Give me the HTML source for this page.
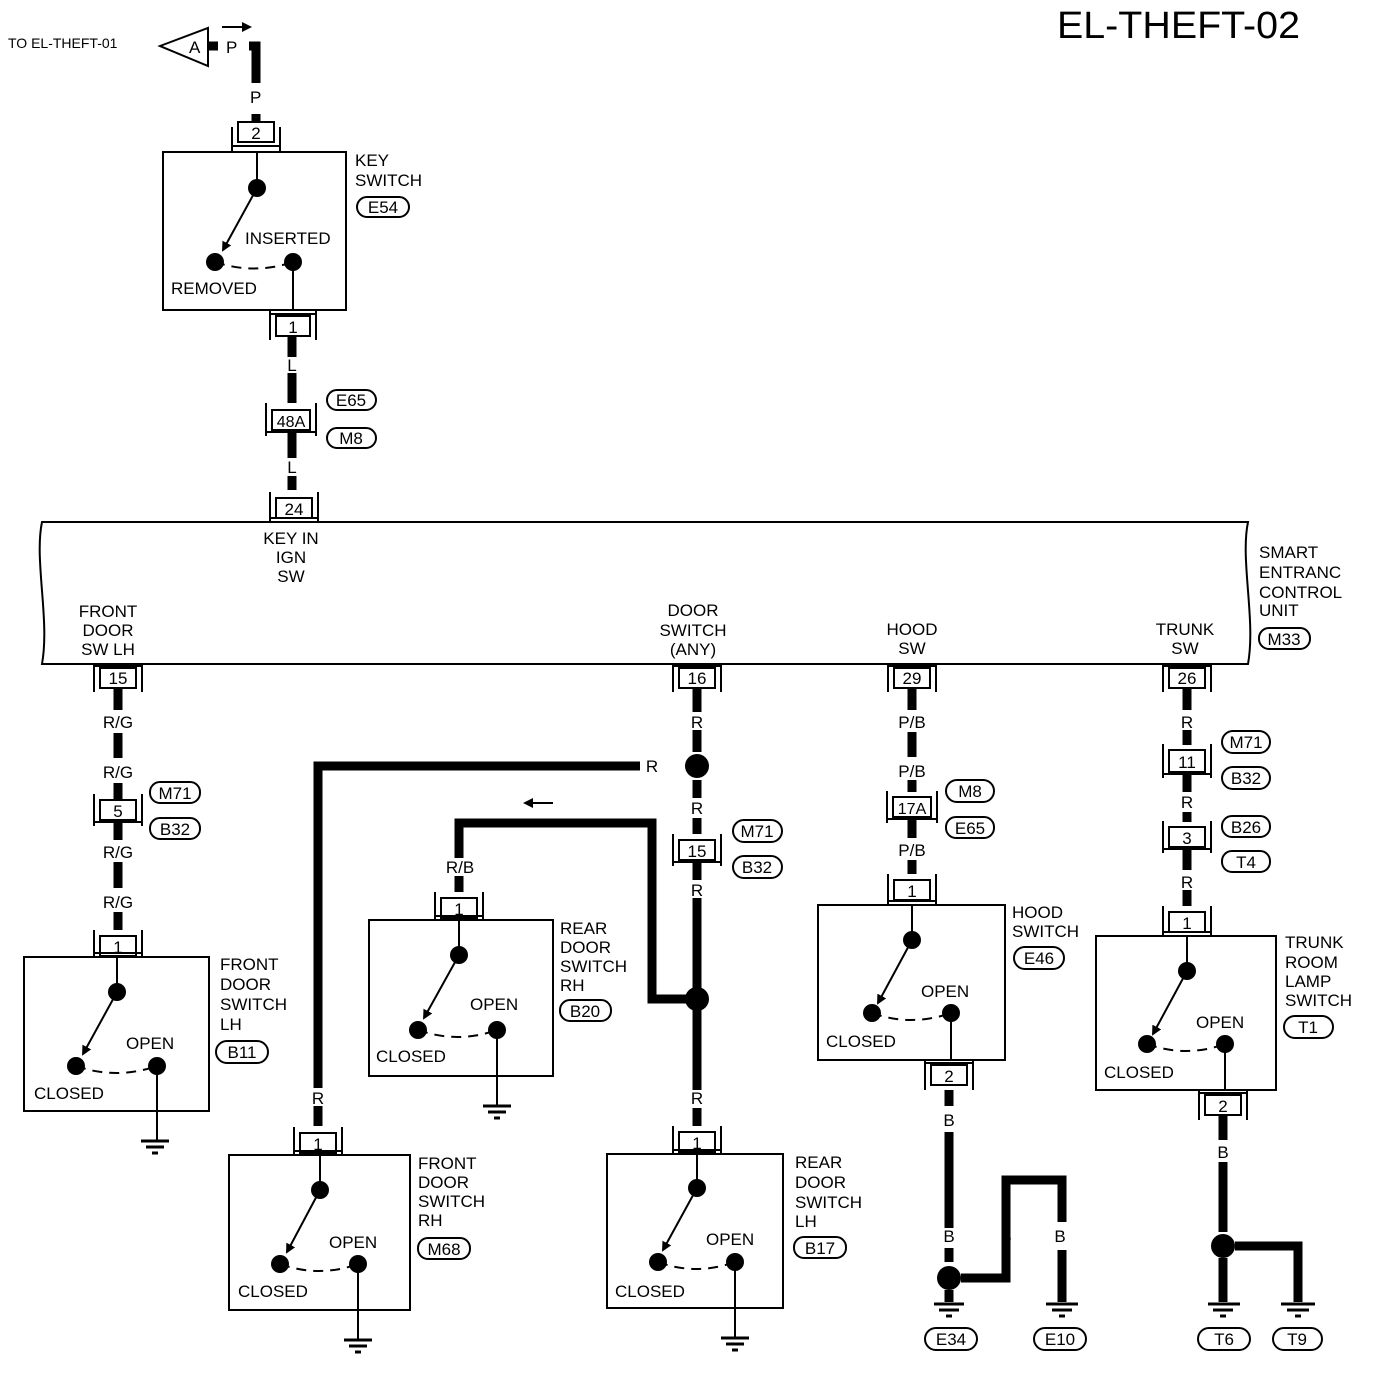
<!DOCTYPE html>
<html><head><style>body{margin:0;background:#fff}svg{display:block}text{font-family:"Liberation Sans",sans-serif;font-size:17px;fill:#000}</style></head><body>
<svg width="1392" height="1392" viewBox="0 0 1392 1392" xmlns="http://www.w3.org/2000/svg">
<defs><marker id="ah" markerWidth="10" markerHeight="10" refX="8" refY="5" orient="auto" markerUnits="userSpaceOnUse"><path d="M0,0 L10,5 L0,10 z" fill="#000"/></marker></defs>
<g fill="none" stroke="#000">
<g stroke-width="9">
<path d="M249,46 H256 V83"/><path d="M208,46 H218"/><path d="M256,114 V122"/>
<path d="M292,336 V357 M292,373 V403 M292,430 V458 M292,476 V490"/>
<path d="M118,688 V710 M118,733 V758 M118,783 V800 M118,822 V840 M118,862 V888 M118,912 V930"/>
<path d="M697,688 V712 M697,730 V752 M697,780 V798 M697,818 V834 M697,862 V880 M697,898 V1090 M697,1108 V1126"/>
<path d="M640,766 H318 V1088 M318,1106 V1126"/>
<path d="M697,999 H652 V823 H459 V858 M459,876 V892"/>
<path d="M912,688 V710 M912,732 V757 M912,780 V792 M912,818 V838 M912,860 V874"/>
<path d="M949,1090 V1106 M949,1132 V1228 M949,1248 V1262 M949,1290 V1302"/>
<path d="M961,1278 H1006 V1180 H1062 V1222 M1006,1250 V1278 M1062,1250 V1302"/>
<path d="M1187,688 V710 M1187,730 V745 M1187,773 V792 M1187,812 V822 M1187,848 V870 M1187,890 V906"/>
<path d="M1223,1115 V1140 M1223,1162 V1232 M1223,1258 V1302 M1235,1246 H1298 V1302"/>
</g>
<g stroke-width="2">
<path d="M160,46 L208,28 L208,66 Z"/>
<path d="M222,27 H250" marker-end="url(#ah)"/>
<path d="M553,803 H525" marker-end="url(#ah)"/>
<rect x="163" y="152" width="183" height="158"/>
<rect x="24" y="957" width="185" height="154"/>
<rect x="369" y="920" width="184" height="156"/>
<rect x="229" y="1155" width="181" height="155"/>
<rect x="607" y="1154" width="176" height="154"/>
<rect x="818" y="905" width="187" height="155"/>
<rect x="1096" y="936" width="180" height="154"/>
<path d="M42,522 H1248 C1240,560 1256,620 1248,664 H42 C50,620 34,560 42,522 Z"/>
</g>
<g stroke-width="2" fill="#fff">
<path d="M238,122 h36 v20 h-36 z M232,127 V152 M280,127 V152 M232,146 H280"/>
<path d="M272,410 h38 v20 h-38 z M266,403 V436 M316,403 V436 M266,432 H316"/>
<path d="M276,498 h36 v20 h-36 z M270,492 V522 M318,492 V522 M270,518 H318"/>
<path d="M100,800 h36 v20 h-36 z M94,794 V826 M142,794 V826 M94,822 H142"/>
<path d="M100,936 h36 v20 h-36 z M94,930 V957 M142,930 V957 M94,953 H142"/>
<path d="M679,840 h36 v20 h-36 z M673,834 V866 M721,834 V866 M673,862 H721"/>
<path d="M679,1132 h36 v20 h-36 z M673,1126 V1154 M721,1126 V1154 M673,1150 H721"/>
<path d="M300,1133 h36 v20 h-36 z M294,1127 V1155 M342,1127 V1155 M294,1151 H342"/>
<path d="M441,898 h36 v20 h-36 z M435,892 V920 M483,892 V920 M435,916 H483"/>
<path d="M893,797 h38 v20 h-38 z M887,791 V823 M937,791 V823 M887,819 H937"/>
<path d="M894,880 h36 v20 h-36 z M888,874 V905 M936,874 V905 M888,901 H936"/>
<path d="M1169,750 h36 v22 h-36 z M1163,744 V778 M1211,744 V778 M1163,774 H1211"/>
<path d="M1169,827 h36 v20 h-36 z M1163,821 V853 M1211,821 V853 M1163,849 H1211"/>
<path d="M1169,912 h36 v20 h-36 z M1163,906 V936 M1211,906 V936 M1163,932 H1211"/>
<path d="M276,316 h34 v20 h-34 z M270,310 V340 M316,310 V340 M270,314 H316"/>
<path d="M100,668 h36 v20 h-36 z M94,664 V692 M142,664 V692 M94,666 H142"/>
<path d="M679,668 h36 v20 h-36 z M673,664 V692 M721,664 V692 M673,666 H721"/>
<path d="M894,668 h36 v20 h-36 z M888,664 V692 M936,664 V692 M888,666 H936"/>
<path d="M1169,668 h36 v20 h-36 z M1163,664 V692 M1211,664 V692 M1163,666 H1211"/>
<path d="M931,1065 h36 v20 h-36 z M925,1060 V1090 M973,1060 V1090 M925,1063 H973"/>
<path d="M1205,1095 h36 v20 h-36 z M1199,1090 V1120 M1247,1090 V1120 M1199,1093 H1247"/>
</g>
<g stroke-width="2">
<path d="M257,152 V188 M257,188 L223,250" marker-end="url(#ah)"/><path d="M293,262 V310"/><path d="M215,262 Q254,275 293,262" stroke-dasharray="10,7"/>
<path d="M117,957 V992 M117,992 L83,1054" marker-end="url(#ah)"/><path d="M157,1066 V1140"/><path d="M76,1066 Q116,1080 157,1066" stroke-dasharray="10,7"/>
<path d="M459,920 V955 M459,955 L424,1018" marker-end="url(#ah)"/><path d="M497,1030 V1105"/><path d="M418,1030 Q458,1044 497,1030" stroke-dasharray="10,7"/>
<path d="M320,1155 V1190 M320,1190 L287,1252" marker-end="url(#ah)"/><path d="M358,1264 V1340"/><path d="M280,1264 Q319,1278 358,1264" stroke-dasharray="10,7"/>
<path d="M697,1154 V1188 M697,1188 L663,1250" marker-end="url(#ah)"/><path d="M735,1262 V1338"/><path d="M658,1262 Q696,1276 735,1262" stroke-dasharray="10,7"/>
<path d="M912,905 V940 M912,940 L878,1003" marker-end="url(#ah)"/><path d="M951,1013 V1060"/><path d="M872,1013 Q911,1027 951,1013" stroke-dasharray="10,7"/>
<path d="M1187,936 V971 M1187,971 L1153,1034" marker-end="url(#ah)"/><path d="M1225,1044 V1090"/><path d="M1147,1044 Q1186,1058 1225,1044" stroke-dasharray="10,7"/>
</g>
<g stroke-width="3">
<path d="M141,1141 H169 M146,1147 H164 M152,1153 H158"/>
<path d="M483,1106 H511 M488,1112 H506 M494,1118 H500"/>
<path d="M344,1340 H372 M349,1346 H367 M355,1352 H361"/>
<path d="M721,1338 H749 M726,1344 H744 M732,1350 H738"/>
<path d="M934,1304 H964 M939,1310 H959 M946,1316 H952"/>
<path d="M1046,1304 H1078 M1052,1310 H1072 M1059,1316 H1065"/>
<path d="M1208,1304 H1240 M1213,1310 H1233 M1220,1316 H1226"/>
<path d="M1281,1304 H1315 M1287,1310 H1309 M1295,1316 H1301"/>
</g>
<g stroke-width="2">
<rect x="357" y="197" width="52" height="20" rx="10"/>
<rect x="327" y="390" width="49" height="20" rx="10"/><rect x="327" y="428" width="49" height="20" rx="10"/>
<rect x="1259" y="628" width="51" height="21" rx="10"/>
<rect x="150" y="782" width="50" height="21" rx="10"/><rect x="150" y="818" width="50" height="21" rx="10"/>
<rect x="216" y="1041" width="52" height="22" rx="11"/>
<rect x="733" y="820" width="49" height="22" rx="11"/><rect x="733" y="856" width="49" height="22" rx="11"/>
<rect x="560" y="1000" width="51" height="21" rx="10"/>
<rect x="418" y="1238" width="52" height="21" rx="10"/>
<rect x="794" y="1237" width="52" height="21" rx="10"/>
<rect x="946" y="780" width="48" height="22" rx="11"/><rect x="946" y="817" width="48" height="21" rx="10"/>
<rect x="1014" y="947" width="50" height="22" rx="11"/>
<rect x="1222" y="731" width="48" height="22" rx="11"/><rect x="1222" y="767" width="48" height="22" rx="11"/>
<rect x="1222" y="816" width="48" height="21" rx="10"/><rect x="1222" y="851" width="48" height="21" rx="10"/>
<rect x="1284" y="1016" width="49" height="22" rx="11"/>
<rect x="925" y="1328" width="52" height="22" rx="11"/><rect x="1034" y="1328" width="52" height="22" rx="11"/>
<rect x="1198" y="1328" width="52" height="22" rx="11"/><rect x="1273" y="1328" width="49" height="22" rx="11"/>
</g>
</g>
<g fill="#000">
<circle cx="257" cy="188" r="9"/><circle cx="215" cy="262" r="9"/><circle cx="293" cy="262" r="9"/>
<circle cx="117" cy="992" r="9"/><circle cx="76" cy="1066" r="9"/><circle cx="157" cy="1066" r="9"/>
<circle cx="459" cy="955" r="9"/><circle cx="418" cy="1030" r="9"/><circle cx="497" cy="1030" r="9"/>
<circle cx="320" cy="1190" r="9"/><circle cx="280" cy="1264" r="9"/><circle cx="358" cy="1264" r="9"/>
<circle cx="697" cy="1188" r="9"/><circle cx="658" cy="1262" r="9"/><circle cx="735" cy="1262" r="9"/>
<circle cx="912" cy="940" r="9"/><circle cx="872" cy="1013" r="9"/><circle cx="951" cy="1013" r="9"/>
<circle cx="1187" cy="971" r="9"/><circle cx="1147" cy="1044" r="9"/><circle cx="1225" cy="1044" r="9"/>
<circle cx="697" cy="766" r="12"/><circle cx="697" cy="999" r="12"/>
<circle cx="949" cy="1278" r="12"/><circle cx="1223" cy="1246" r="12"/>
</g>
<text x="1057" y="38" style="font-size:38px" textLength="243" lengthAdjust="spacingAndGlyphs">EL-THEFT-02</text>
<text x="8" y="48" style="font-size:14px">TO EL-THEFT-01</text>
<text x="189" y="53">A</text><text x="226" y="53">P</text><text x="250" y="103">P</text>
<g text-anchor="middle">
<text x="256" y="139">2</text><text x="293" y="333">1</text><text x="291" y="427" style="font-size:16px">48A</text><text x="294" y="515">24</text>
<text x="118" y="684">15</text><text x="697" y="684">16</text><text x="912" y="684">29</text><text x="1187" y="684">26</text>
<text x="118" y="817">5</text><text x="118" y="953">1</text><text x="697" y="857">15</text><text x="697" y="1149">1</text>
<text x="318" y="1150">1</text><text x="459" y="915">1</text><text x="912" y="814" style="font-size:16px">17A</text><text x="912" y="897">1</text>
<text x="1187" y="768">11</text><text x="1187" y="844">3</text><text x="1187" y="929">1</text><text x="949" y="1082">2</text><text x="1223" y="1112">2</text>
<text x="292" y="371">L</text><text x="292" y="473">L</text>
<text x="118" y="728">R/G</text><text x="118" y="778">R/G</text><text x="118" y="858">R/G</text><text x="118" y="908">R/G</text>
<text x="697" y="728">R</text><text x="697" y="814">R</text><text x="697" y="896">R</text><text x="697" y="1104">R</text><text x="652" y="772">R</text>
<text x="318" y="1104">R</text><text x="460" y="873">R/B</text>
<text x="912" y="728">P/B</text><text x="912" y="777">P/B</text><text x="912" y="856">P/B</text>
<text x="1187" y="728">R</text><text x="1187" y="808">R</text><text x="1187" y="888">R</text>
<text x="949" y="1126">B</text><text x="949" y="1242">B</text><text x="1006" y="1242">B</text><text x="1060" y="1242">B</text><text x="1223" y="1158">B</text>
<text x="291" y="544">KEY IN</text><text x="291" y="563">IGN</text><text x="291" y="582">SW</text>
<text x="108" y="617">FRONT</text><text x="108" y="636">DOOR</text><text x="108" y="655">SW LH</text>
<text x="693" y="616">DOOR</text><text x="693" y="636">SWITCH</text><text x="693" y="655">(ANY)</text>
<text x="912" y="635">HOOD</text><text x="912" y="654">SW</text>
<text x="1185" y="635">TRUNK</text><text x="1185" y="654">SW</text>
<text x="383" y="213">E54</text><text x="351" y="406">E65</text><text x="351" y="444">M8</text><text x="1284" y="645">M33</text>
<text x="175" y="799">M71</text><text x="175" y="835">B32</text><text x="242" y="1058">B11</text>
<text x="757" y="837">M71</text><text x="757" y="873">B32</text><text x="585" y="1017">B20</text><text x="444" y="1255">M68</text><text x="820" y="1254">B17</text>
<text x="970" y="797">M8</text><text x="970" y="834">E65</text><text x="1039" y="964">E46</text>
<text x="1246" y="748">M71</text><text x="1246" y="784">B32</text><text x="1246" y="833">B26</text><text x="1246" y="868">T4</text><text x="1308" y="1033">T1</text>
<text x="951" y="1345">E34</text><text x="1060" y="1345">E10</text><text x="1224" y="1345">T6</text><text x="1297" y="1345">T9</text>
</g>
<text x="355" y="166">KEY</text><text x="355" y="186">SWITCH</text>
<text x="245" y="244">INSERTED</text><text x="171" y="294">REMOVED</text>
<text x="1259" y="558">SMART</text><text x="1259" y="578">ENTRANC</text><text x="1259" y="598">CONTROL</text><text x="1259" y="616">UNIT</text>
<text x="220" y="970">FRONT</text><text x="220" y="990">DOOR</text><text x="220" y="1010">SWITCH</text><text x="220" y="1030">LH</text>
<text x="126" y="1049">OPEN</text><text x="34" y="1099">CLOSED</text>
<text x="560" y="934">REAR</text><text x="560" y="953">DOOR</text><text x="560" y="972">SWITCH</text><text x="560" y="991">RH</text>
<text x="470" y="1010">OPEN</text><text x="376" y="1062">CLOSED</text>
<text x="418" y="1169">FRONT</text><text x="418" y="1188">DOOR</text><text x="418" y="1207">SWITCH</text><text x="418" y="1226">RH</text>
<text x="329" y="1248">OPEN</text><text x="238" y="1297">CLOSED</text>
<text x="795" y="1168">REAR</text><text x="795" y="1188">DOOR</text><text x="795" y="1208">SWITCH</text><text x="795" y="1227">LH</text>
<text x="706" y="1245">OPEN</text><text x="615" y="1297">CLOSED</text>
<text x="1012" y="918">HOOD</text><text x="1012" y="937">SWITCH</text>
<text x="921" y="997">OPEN</text><text x="826" y="1047">CLOSED</text>
<text x="1285" y="948">TRUNK</text><text x="1285" y="968">ROOM</text><text x="1285" y="987">LAMP</text><text x="1285" y="1006">SWITCH</text>
<text x="1196" y="1028">OPEN</text><text x="1104" y="1078">CLOSED</text>
</svg>
</body></html>
